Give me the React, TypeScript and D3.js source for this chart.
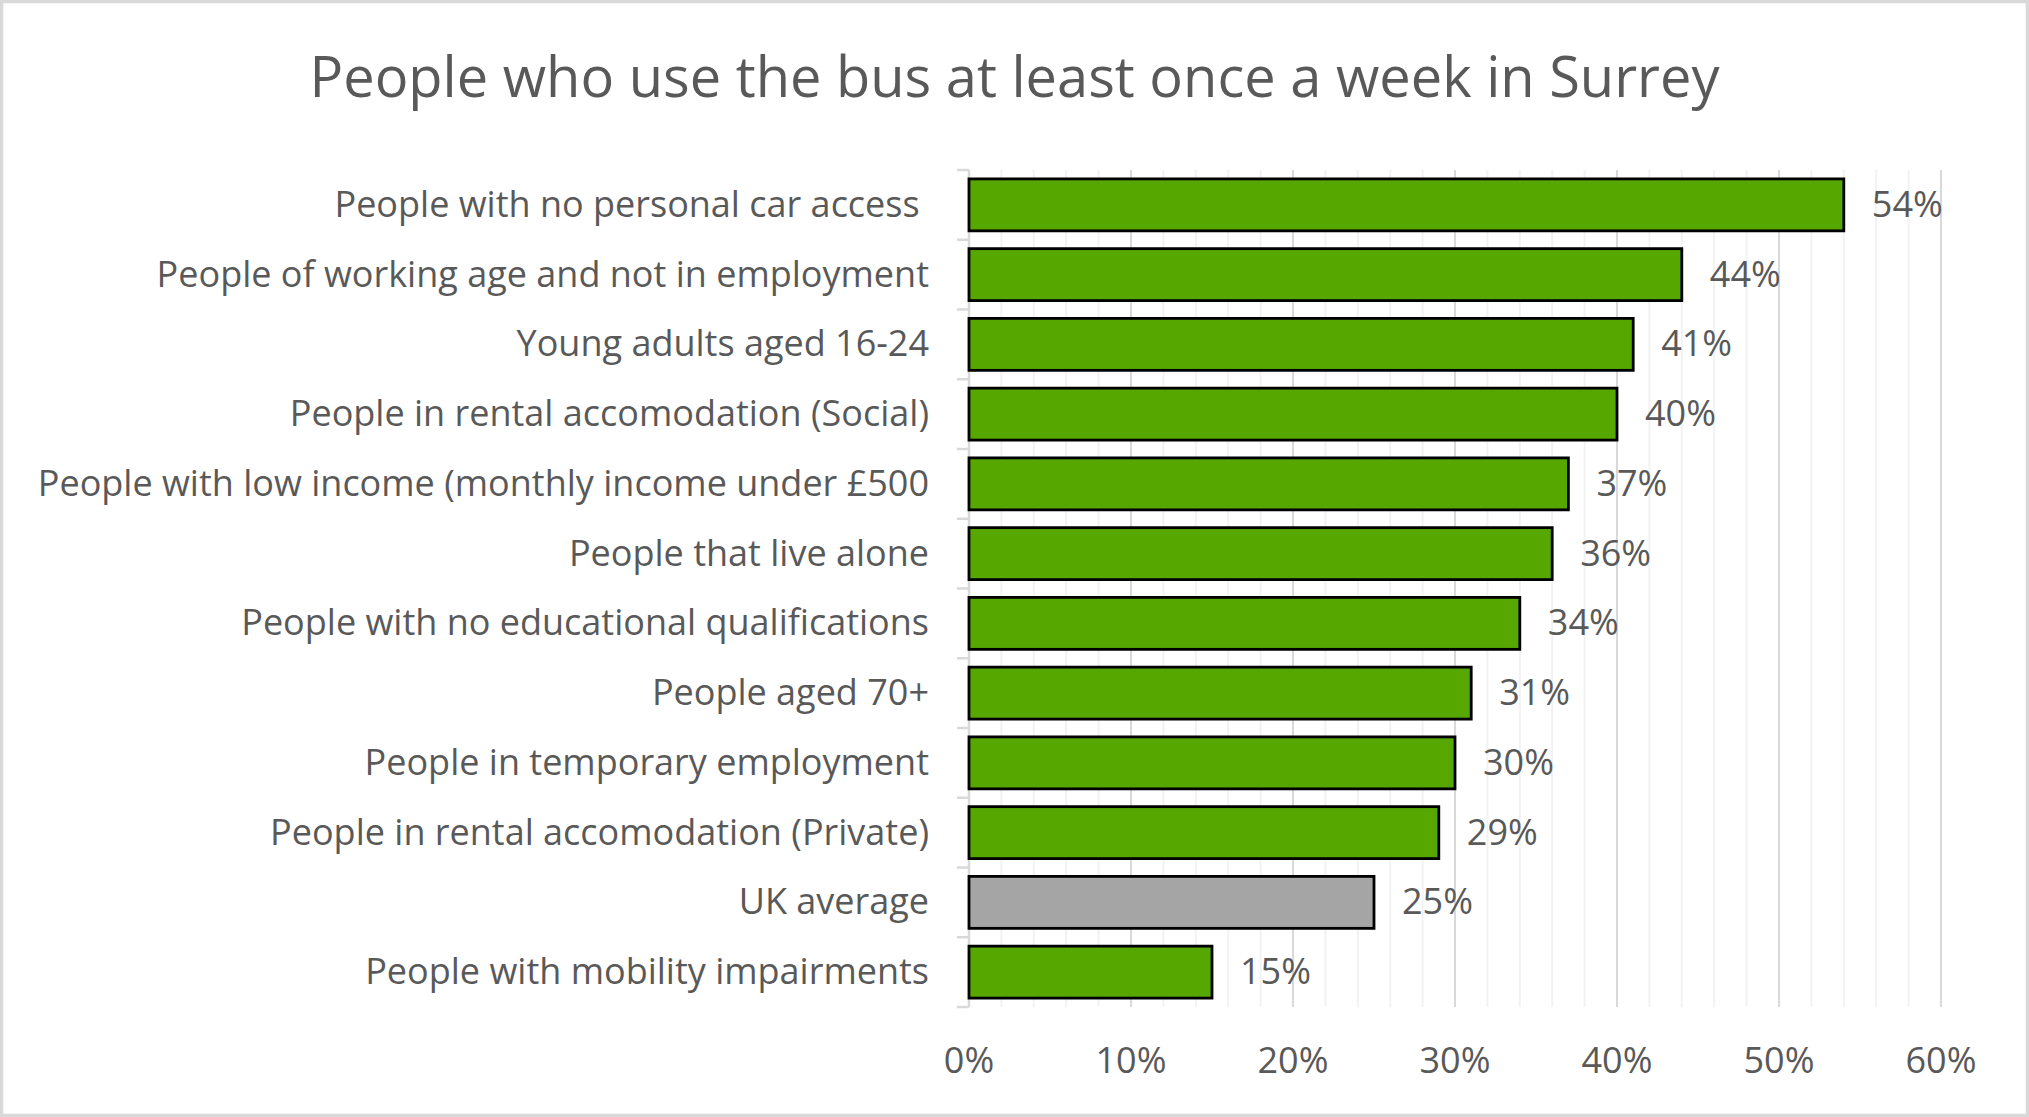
import React from 'react';
import * as d3 from 'd3';

const title = 'People who use the bus at least once a week in Surrey';
const categories = [
  'People with no personal car access ',
  'People of working age and not in employment',
  'Young adults aged 16-24',
  'People in rental accomodation (Social)',
  'People with low income (monthly income under £500',
  'People that live alone',
  'People with no educational qualifications',
  'People aged 70+',
  'People in temporary employment',
  'People in rental accomodation (Private)',
  'UK average',
  'People with mobility impairments',
];
const values = [54, 44, 41, 40, 37, 36, 34, 31, 30, 29, 25, 15];
const highlighted = ['UK average'];
const xTicks = [0, 10, 20, 30, 40, 50, 60];
const minorStep = 2;

const W = 2029;
const H = 1117;
const FONT = '"Open Sans", Lato, sans-serif';
const TEXT = '#595959';

export default function App() {
  const plot = { left: 969, right: 1941, top: 170, bottom: 1007 };
  const x = d3.scaleLinear().domain([0, 60]).range([plot.left, plot.right]);
  const pad = 0.255;
  const y = d3
    .scaleBand<string>()
    .domain(categories)
    .range([plot.top, plot.bottom])
    .paddingInner(pad)
    .paddingOuter(pad / 2);
  const step = y.step();
  const bw = y.bandwidth();
  const minorTicks = d3.range(0, 60 + minorStep, minorStep).filter((t) => t % 10 !== 0);
  const boundaries = d3.range(categories.length + 1).map((i) => plot.top + i * step);

  return (
    <svg
      width={W}
      height={H}
      style={{ position: 'absolute', left: 0, top: 0, background: '#fff' }}
      fontFamily={FONT}
    >
      <rect x={0} y={0} width={W} height={H} fill="#fff" />
      <rect x={1.65} y={1.65} width={W - 3.3} height={H - 3.3} fill="none" stroke="#d9d9d9" strokeWidth={3.3} />
      <text x={W / 2} y={97} textAnchor="middle" fontSize={56} fill={TEXT}>
        {title}
      </text>
      {minorTicks.map((t) => (
        <line key={'m' + t} x1={x(t)} x2={x(t)} y1={plot.top} y2={plot.bottom} stroke="#f2f2f2" strokeWidth={2} />
      ))}
      {xTicks.map((t) => (
        <line key={'g' + t} x1={x(t)} x2={x(t)} y1={plot.top} y2={plot.bottom} stroke="#d9d9d9" strokeWidth={2} />
      ))}
      <line x1={plot.left} x2={plot.left} y1={plot.top} y2={plot.bottom} stroke="#d9d9d9" strokeWidth={2.5} />
      {boundaries.map((b, i) => (
        <line key={'t' + i} x1={plot.left - 12} x2={plot.left} y1={b} y2={b} stroke="#d9d9d9" strokeWidth={2.5} />
      ))}
      {categories.map((c, i) => {
        const v = values[i];
        const y0 = y(c) as number;
        const cy = y0 + bw / 2;
        return (
          <g key={c}>
            <rect
              x={x(0)}
              y={y0}
              width={x(v) - x(0)}
              height={bw}
              fill={highlighted.includes(c) ? '#a5a5a5' : '#56a700'}
              stroke="#000"
              strokeWidth={2.8}
            />
            <text
              x={plot.left - 40}
              y={cy + 12}
              textAnchor="end"
              fontSize={36}
              fill={TEXT}
              style={{ whiteSpace: 'pre' }}
            >
              {c}
            </text>
            <text x={x(v) + 28} y={cy + 12} fontSize={36} fill={TEXT}>
              {v + '%'}
            </text>
          </g>
        );
      })}
      {xTicks.map((t) => (
        <text key={'l' + t} x={x(t)} y={1073} textAnchor="middle" fontSize={36} fill={TEXT}>
          {t + '%'}
        </text>
      ))}
    </svg>
  );
}
